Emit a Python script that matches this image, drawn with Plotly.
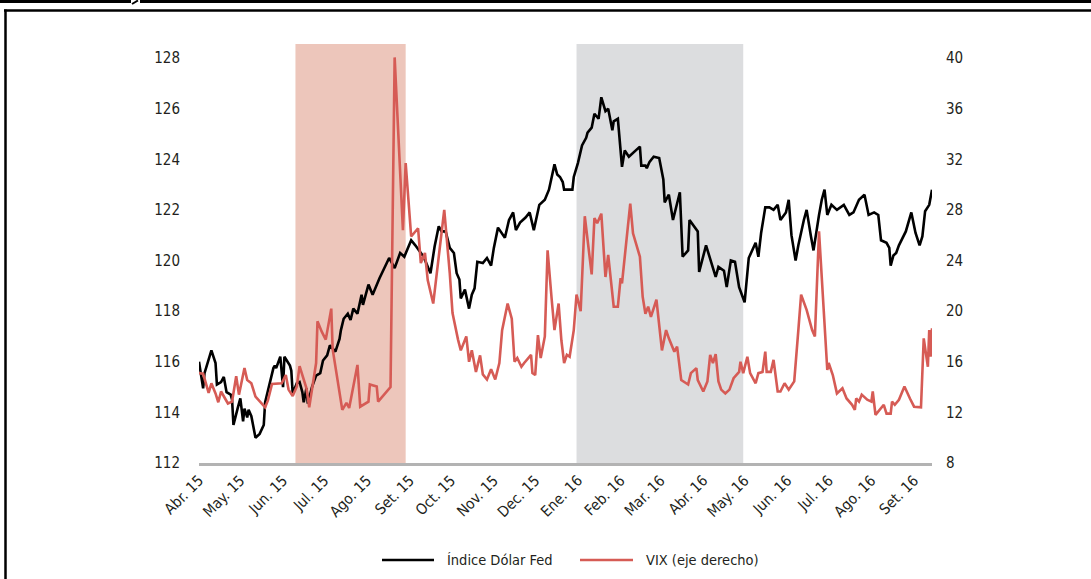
import plotly.graph_objects as go
import pandas as pd

# ---------------- data ----------------
START = pd.Timestamp("2015-04-01")
END = pd.Timestamp("2016-09-14")

# days since 1 Apr 2015 / Índice Dólar Fed (left axis)
usd_days = [0, 3, 4, 9, 12, 13, 16, 18, 20, 23, 24, 25, 28, 30, 32, 33, 35, 36, 38, 41, 44, 47, 48, 50,
            54, 55, 56, 59, 61, 62, 66, 67, 68, 71, 73, 75, 76, 78, 79, 82, 85, 88, 90, 93, 95, 99,
            102, 103, 105, 108, 110, 112, 115, 118, 119, 123, 126, 131, 135, 138, 142, 144, 146, 149,
            154, 157, 161, 163, 168, 171, 174, 176, 179, 182, 185, 187, 189, 190, 193, 196, 198, 200,
            202, 206, 209, 212, 214, 217, 222, 225, 228, 230, 233, 237, 240, 243, 247, 251, 254, 258,
            260, 262, 264, 265, 271, 272, 275, 278, 281, 282, 285, 287, 290, 292, 295, 297, 300, 301,
            304, 307, 309, 312, 320, 321, 324, 325, 327, 330, 334, 337, 338, 341, 344, 349, 351, 355,
            356, 362, 363, 365, 368, 375, 377, 381, 383, 386, 389, 392, 396, 399, 404, 406, 408, 411,
            414, 417, 420, 422, 426, 428, 430, 433, 435, 439, 441, 444, 446, 450, 452, 454, 456, 459,
            463, 468, 472, 475, 479, 483, 486, 490, 493, 495, 499, 501, 502, 504, 506, 508, 511, 513,
            517, 520, 523, 525, 527, 530, 532]
usd_vals = [116.0, 114.95, 115.55, 116.45, 115.95, 115.1, 115.2, 115.4, 114.8, 114.7, 114.5, 113.5,
            114.15, 114.55, 113.65, 114.15, 113.8, 114.1, 113.85, 113.0, 113.15, 113.5, 114.4, 114.85,
            115.75, 115.85, 115.75, 116.2, 115.0, 116.2, 115.85, 115.65, 114.75, 115.15, 115.2, 114.8,
            114.4, 114.95, 114.35, 115.0, 115.45, 115.55, 116.05, 116.25, 116.65, 116.4, 116.9, 117.25,
            117.7, 117.9, 117.65, 118.1, 117.9, 118.65, 118.25, 119.05, 118.65, 119.3, 119.75, 120.1,
            119.7, 120.0, 120.3, 120.15, 120.8, 120.6, 120.3, 120.15, 119.5, 120.55, 121.35, 121.15,
            121.15, 120.5, 120.3, 119.5, 119.25, 118.5, 118.85, 118.1, 118.65, 118.9, 119.95, 119.9,
            120.1, 119.8, 120.5, 121.3, 120.9, 121.6, 121.9, 121.2, 121.5, 121.7, 121.9, 121.2, 122.2,
            122.4, 122.8, 123.8, 123.4, 123.3, 123.1, 122.8, 122.8, 123.3, 123.85, 124.55, 124.85,
            125.05, 125.25, 125.8, 125.6, 126.45, 125.9, 126.0, 125.15, 125.5, 125.6, 123.7, 124.35,
            124.1, 124.5, 123.75, 123.75, 123.65, 123.9, 124.1, 124.05, 123.2, 122.3, 122.6, 121.6,
            122.7, 120.15, 120.4, 121.6, 121.15, 119.55, 119.95, 120.6, 119.35, 119.75, 119.6, 118.95,
            120.0, 119.95, 118.95, 118.35, 120.1, 120.7, 120.15, 121.1, 122.1, 122.1, 122.0, 122.2,
            121.6, 121.9, 122.4, 121.0, 120.0, 120.6, 121.6, 122.0, 121.0, 120.4, 121.8, 122.4, 122.8,
            121.8, 122.2, 122.0, 122.2, 121.8, 121.9, 122.4, 122.6, 121.8, 121.9, 121.8, 120.8, 120.7,
            120.5, 119.8, 120.2, 120.3, 120.6, 120.9, 121.15, 121.9, 121.1, 120.6, 120.95, 121.95,
            122.2, 122.8]

# days since 1 Apr 2015 / VIX (right axis)
vix_days = [0, 3, 7, 9, 12, 14, 16, 21, 24, 27, 29, 33, 35, 38, 41, 44, 48, 50, 53, 60, 63, 65, 68,
            71, 73, 78, 80, 85, 86, 89, 92, 96, 97, 104, 107, 109, 115, 117, 123, 124, 129, 130, 133,
            137, 139, 142, 148, 150, 154, 159, 161, 164, 166, 170, 178, 182, 184, 188, 190, 194, 196,
            198, 201, 204, 206, 209, 212, 215, 218, 220, 224, 227, 229, 231, 234, 236, 241, 242, 244,
            246, 248, 251, 253, 256, 258, 261, 263, 265, 267, 269, 272, 274, 277, 280, 285, 287, 289,
            292, 295, 297, 301, 304, 306, 307, 313, 315, 320, 322, 324, 326, 328, 332, 335, 336, 339,
            341, 345, 347, 350, 355, 357, 361, 362, 366, 369, 371, 373, 375, 377, 379, 382, 385, 388,
            392, 393, 395, 398, 400, 404, 406, 409, 411, 412, 415, 417, 420, 422, 425, 428, 432, 435,
            437, 441, 445, 447, 450, 456, 457, 460, 463, 467, 470, 474, 476, 477, 479, 481, 485, 488,
            489, 491, 495, 497, 499, 502, 503, 505, 508, 512, 516, 519, 524, 526, 529, 530, 531, 532]
vix_vals = [15.1, 15.05, 13.55, 14.3, 13.5, 12.8, 13.65, 12.7, 12.85, 14.85, 13.4, 15.5, 14.55, 14.3,
            13.25, 12.85, 12.4, 12.95, 14.25, 14.3, 14.95, 13.8, 13.3, 14.05, 15.65, 13.9, 12.4, 15.9,
            19.2, 18.4, 17.75, 20.2, 17.0, 12.2, 12.75, 12.35, 15.75, 12.45, 12.85, 14.2, 14.05, 12.85,
            13.25, 13.8, 14.0, 40.05, 26.4, 31.7, 25.9, 26.55, 23.8, 24.6, 22.45, 20.6, 28.0, 23.0,
            19.85, 17.75, 16.9, 18.0, 16.0, 16.9, 15.2, 16.5, 15.0, 14.6, 15.4, 14.6, 15.9, 18.5, 20.6,
            19.4, 16.0, 16.3, 15.6, 15.9, 16.55, 15.1, 14.95, 18.1, 16.3, 18.0, 24.8, 20.9, 18.5, 20.6,
            17.7, 15.9, 16.55, 16.4, 18.5, 21.3, 20.0, 27.5, 22.9, 27.35, 26.95, 27.7, 22.7, 24.45,
            20.35, 20.35, 22.6, 22.2, 28.5, 26.15, 24.3, 21.15, 19.8, 20.35, 19.55, 20.9, 18.0, 16.9,
            18.5, 17.85, 16.8, 17.2, 14.55, 14.2, 15.1, 15.5, 14.55, 13.65, 14.45, 16.55, 15.9, 16.6,
            14.45, 13.8, 13.5, 13.8, 14.7, 15.2, 16.0, 15.1, 16.4, 15.1, 14.3, 15.1, 15.2, 16.8, 15.2,
            15.2, 16.15, 13.65, 13.65, 14.3, 13.8, 14.45, 18.5, 21.3, 20.1, 18.5, 18.0, 26.3, 15.35,
            15.9, 14.95, 13.5, 13.9, 13.1, 12.6, 12.2, 13.1, 12.85, 13.4, 13.0, 12.85, 13.65, 11.8,
            12.35, 12.6, 11.9, 11.9, 12.85, 12.6, 13.0, 14.05, 13.1, 12.45, 12.4, 17.85, 15.6, 18.5,
            16.4, 18.65]

month_labels = ["Abr. 15", "May. 15", "Jun. 15", "Jul. 15", "Ago. 15", "Set. 15", "Oct. 15",
                "Nov. 15", "Dec. 15", "Ene. 16", "Feb. 16", "Mar. 16", "Abr. 16", "May. 16",
                "Jun. 16", "Jul. 16", "Ago. 16", "Set. 16"]
month_ticks = pd.date_range("2015-04-01", "2016-09-01", freq="MS")

shade_starts = ["2015-06-10", "2015-12-31"]
shade_ends = ["2015-08-29", "2016-04-30"]

series_names = ["Índice Dólar Fed", "VIX (eje derecho)"]

# ---------------- styling ----------------
FONT = "'DejaVu Sans Condensed', 'Liberation Sans Narrow', Roboto, sans-serif"
TXT = "#231f20"
BLACK = "#000000"
RED = "#d65b55"
SHADE_COLORS = ["#edc6bb", "#dcdddf"]

W_PX, H_PX = 1091, 579
L, R, T, B = 199, 159, 44, 116
PW, PH = W_PX - L - R, H_PX - T - B


def px_x(x):
    return (x - L) / PW


def px_y(y):
    return (H_PX - B - y) / PH


usd_dates = START + pd.to_timedelta(usd_days, unit="D")
vix_dates = START + pd.to_timedelta(vix_days, unit="D")

fig = go.Figure()
fig.add_trace(go.Scatter(x=usd_dates, y=usd_vals, mode="lines", name=series_names[0],
                         line=dict(color=BLACK, width=2.6), yaxis="y", showlegend=False))
fig.add_trace(go.Scatter(x=vix_dates, y=vix_vals, mode="lines", name=series_names[1],
                         line=dict(color=RED, width=2.6), yaxis="y2", showlegend=False))

shapes = []
for s, e, c in zip(shade_starts, shade_ends, SHADE_COLORS):
    shapes.append(dict(type="rect", xref="x", yref="paper", x0=s, x1=e, y0=0, y1=1,
                       fillcolor=c, line=dict(width=0), layer="below"))

# frame decoration
shapes.append(dict(type="line", xref="paper", yref="paper", x0=px_x(0), x1=px_x(131),
                   y0=px_y(1.5), y1=px_y(1.5), line=dict(color="black", width=3)))
shapes.append(dict(type="line", xref="paper", yref="paper", x0=px_x(132), x1=px_x(138),
                   y0=px_y(4), y1=px_y(0.5), line=dict(color="black", width=2)))
shapes.append(dict(type="line", xref="paper", yref="paper", x0=px_x(140), x1=px_x(1091),
                   y0=px_y(1.5), y1=px_y(1.5), line=dict(color="black", width=3)))
shapes.append(dict(type="line", xref="paper", yref="paper", x0=px_x(4), x1=px_x(1091),
                   y0=px_y(10.5), y1=px_y(10.5), line=dict(color="black", width=2.5)))
shapes.append(dict(type="line", xref="paper", yref="paper", x0=px_x(5.5), x1=px_x(5.5),
                   y0=px_y(9.5), y1=px_y(579), line=dict(color="black", width=2.5)))

# manual legend
legend_y = px_y(560)
annotations = []
for (x0, x1, tx), col, name in zip([(382, 434, 445), (580, 633, 644)], [BLACK, RED], series_names):
    shapes.append(dict(type="line", xref="paper", yref="paper", x0=px_x(x0), x1=px_x(x1),
                       y0=legend_y, y1=legend_y, line=dict(color=col, width=2.6)))
    annotations.append(dict(xref="paper", yref="paper", x=px_x(tx), y=legend_y, text=name,
                            showarrow=False, xanchor="left", yanchor="middle",
                            font=dict(family=FONT, size=14.5, color=TXT)))

fig.update_layout(
    width=W_PX, height=H_PX,
    margin=dict(l=L, r=R, t=T, b=B, pad=0),
    paper_bgcolor="white", plot_bgcolor="rgba(0,0,0,0)",
    font=dict(family=FONT, size=15, color=TXT),
    shapes=shapes, annotations=annotations,
    showlegend=False,
    xaxis=dict(type="date", range=[START, END], tickvals=month_ticks, ticktext=month_labels,
               tickangle=-45, showgrid=False, zeroline=False, showline=True,
               linecolor="#b3b3b3", linewidth=2.5, ticks="", tickfont=dict(size=15)),
    yaxis=dict(range=[112, 128.555], tickvals=list(range(112, 129, 2)), showgrid=False,
               zeroline=False, showline=False, ticks="", ticklabelstandoff=18),
    yaxis2=dict(range=[8, 41.11], tickvals=list(range(8, 41, 4)), overlaying="y", side="right",
                showgrid=False, zeroline=False, showline=False, ticks="", ticklabelstandoff=13),
)

fig.write_html("out.html", config={"displayModeBar": False},
               post_script="document.body.style.margin='0';document.body.style.overflow='hidden';")
